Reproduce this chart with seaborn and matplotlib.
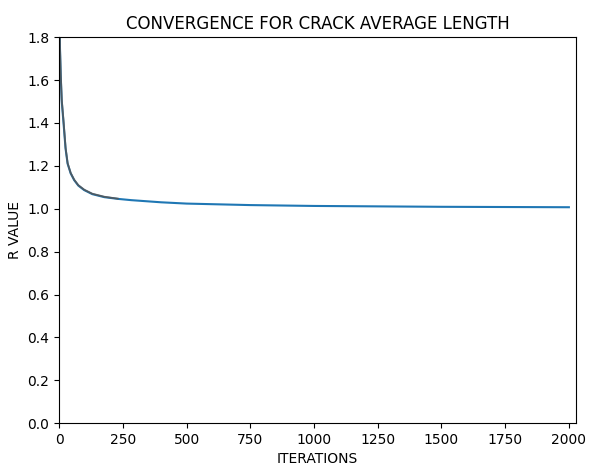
import matplotlib
matplotlib.use("Agg")
import matplotlib.pyplot as plt
import seaborn as sns
import pandas as pd

iterations = [1, 3, 6, 10, 17, 25, 33, 45, 59, 75, 98, 130, 177, 230, 283, 400, 500, 750, 1000, 1250, 1500, 1750, 2000]
r_blue = [1.95, 1.75, 1.62, 1.50, 1.40, 1.28, 1.21, 1.165, 1.133, 1.108, 1.087, 1.068, 1.054, 1.046, 1.040, 1.030, 1.024, 1.017, 1.013, 1.011, 1.009, 1.008, 1.007]

iterations_gray = [1, 3, 6, 10, 17, 25, 33, 45, 59, 75, 98, 130, 177, 230]
r_gray = [1.96, 1.76, 1.63, 1.51, 1.41, 1.285, 1.213, 1.167, 1.135, 1.110, 1.089, 1.070, 1.056, 1.047]

df_blue = pd.DataFrame({"it": iterations, "r": r_blue})
df_gray = pd.DataFrame({"it": iterations_gray, "r": r_gray})

fig = plt.figure(figsize=(5.92, 4.65), dpi=100)
ax = fig.add_axes([0.10, 0.090, 0.873, 0.830])
sns.lineplot(data=df_blue, x="it", y="r", color="#1f77b4", linewidth=1.5, ax=ax)
sns.lineplot(data=df_gray, x="it", y="r", color="#555555", linewidth=1.3, alpha=0.85, ax=ax)

ax.set_xlim(0, 2028)
ax.set_ylim(0, 1.8)
ax.set_xticks([0, 250, 500, 750, 1000, 1250, 1500, 1750, 2000])
ax.set_yticks([0.0, 0.2, 0.4, 0.6, 0.8, 1.0, 1.2, 1.4, 1.6, 1.8])
ax.set_title("CONVERGENCE FOR CRACK AVERAGE LENGTH")
ax.set_xlabel("ITERATIONS")
ax.set_ylabel("R VALUE")
fig.savefig("out.png", dpi=100)
